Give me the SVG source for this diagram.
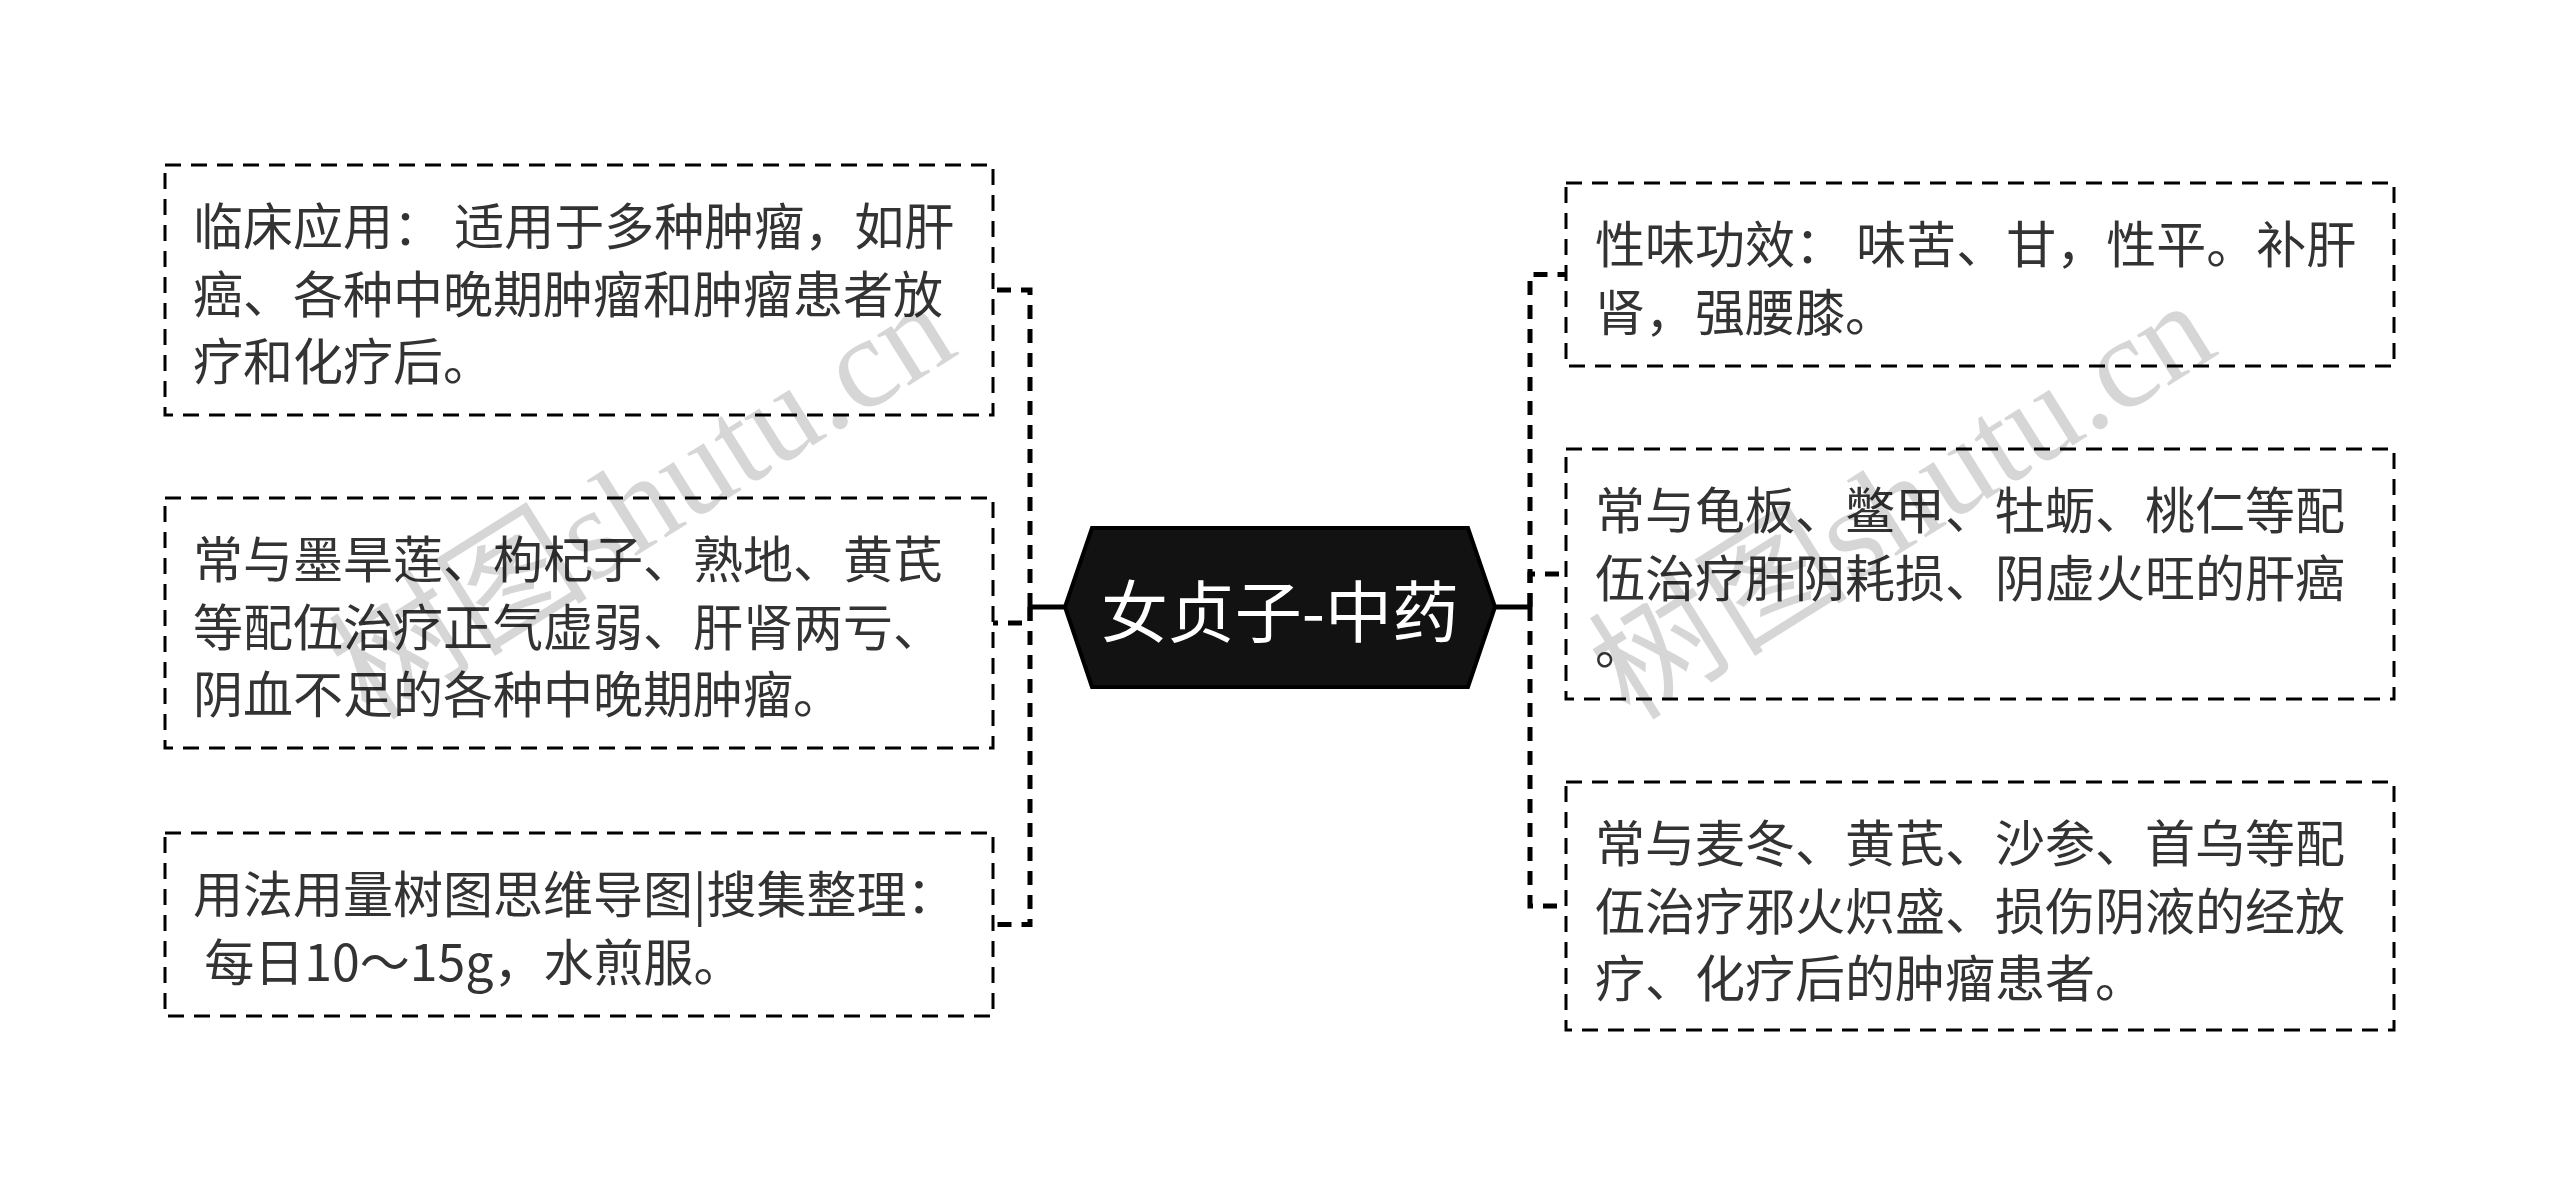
<svg xmlns="http://www.w3.org/2000/svg" width="2560" height="1199" viewBox="0 0 2560 1199">
<style>
.box{fill:#fff;stroke:#000;stroke-width:3;stroke-dasharray:16 10;}
.t{font-family:"Noto Sans CJK SC","Noto Sans",sans-serif;font-size:50px;fill:#333;dominant-baseline:central;}
.conn{fill:none;stroke:#000;stroke-width:5;stroke-dasharray:14 10;}
.solid{fill:none;stroke:#000;stroke-width:5;}
.wm{font-family:"Liberation Serif","Noto Sans CJK SC",serif;font-size:130px;fill:#000;fill-opacity:0.16;}
</style>
<rect width="2560" height="1199" fill="#fff"/>
<g id="connectors">
<path class="solid" d="M1065,607 H1030"/>
<path class="conn" d="M1030,607 V290 H993"/>
<path class="conn" d="M1030,607 V623 H993"/>
<path class="conn" d="M1030,607 V924.5 H993"/>
<path class="solid" d="M1495,607 H1530"/>
<path class="conn" d="M1530,607 V274.5 H1566"/>
<path class="conn" d="M1530,607 V574 H1566"/>
<path class="conn" d="M1530,607 V906 H1566"/>
</g>
<g id="center">
<polygon points="1065,607 1092,528 1468,528 1495,607 1468,687 1092,687" fill="#121212" stroke="#000" stroke-width="4"/>
<text x="1280" y="607" text-anchor="middle" style="font-family:'Noto Sans CJK SC','Noto Sans',sans-serif;font-size:67px;fill:#fff;dominant-baseline:central;">女贞子-中药</text>
</g>
<g id="left1">
<rect class="box" x="165" y="165" width="828" height="250"/>
<text class="t" x="193" y="223">临床应用： 适用于多种肿瘤，如肝</text>
<text class="t" x="193" y="290.5">癌、各种中晚期肿瘤和肿瘤患者放</text>
<text class="t" x="193" y="358">疗和化疗后。</text>
</g>
<g id="left2">
<rect class="box" x="165" y="498" width="828" height="250"/>
<text class="t" x="193" y="556">常与墨旱莲、枸杞子、熟地、黄芪</text>
<text class="t" x="193" y="623.5">等配伍治疗正气虚弱、肝肾两亏、</text>
<text class="t" x="193" y="691">阴血不足的各种中晚期肿瘤。</text>
</g>
<g id="left3">
<rect class="box" x="165" y="833" width="828" height="183"/>
<text class="t" x="193" y="891">用法用量树图思维导图|搜集整理：</text>
<text class="t" x="193" y="958.5" xml:space="preserve" style="white-space:pre"> 每日10～15g，水煎服。</text>
</g>
<g id="right1">
<rect class="box" x="1566" y="183" width="828" height="183"/>
<text class="t" x="1595" y="241">性味功效： 味苦、甘，性平。补肝</text>
<text class="t" x="1595" y="308.5">肾，强腰膝。</text>
</g>
<g id="right2">
<rect class="box" x="1566" y="449" width="828" height="250"/>
<text class="t" x="1595" y="507">常与龟板、鳖甲、牡蛎、桃仁等配</text>
<text class="t" x="1595" y="574.5">伍治疗肝阴耗损、阴虚火旺的肝癌</text>
<text class="t" x="1595" y="642">。</text>
</g>
<g id="right3">
<rect class="box" x="1566" y="782" width="828" height="248"/>
<text class="t" x="1595" y="840">常与麦冬、黄芪、沙参、首乌等配</text>
<text class="t" x="1595" y="907.5">伍治疗邪火炽盛、损伤阴液的经放</text>
<text class="t" x="1595" y="975">疗、化疗后的肿瘤患者。</text>
</g>
<g id="watermark">
<text class="wm" transform="translate(370,722) rotate(-32)">树图shutu.cn</text>
<text class="wm" transform="translate(1630,722) rotate(-32)">树图shutu.cn</text>
</g>
</svg>
